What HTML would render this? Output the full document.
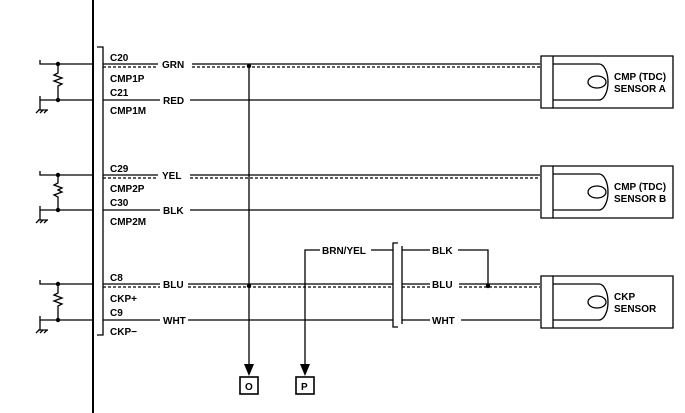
<!DOCTYPE html>
<html><head><meta charset="utf-8"><style>
html,body{margin:0;padding:0;background:#fff;}
svg{display:block;}
text{font-family:"Liberation Sans",Arial,sans-serif;font-weight:bold;font-size:10px;fill:#000;}
</style></head><body>
<svg width="685" height="413" viewBox="0 0 685 413" xmlns="http://www.w3.org/2000/svg">
<g stroke="#000" fill="none" stroke-width="1.3">
<!-- main vertical -->
<line x1="93" y1="0" x2="93" y2="413" stroke-width="2"/>
<!-- connector bracket -->
<polyline points="97,47 103,47 103,335 97,335"/>
</g>
<!-- row group template repeated -->
<g id="rows" stroke="#000" fill="none" stroke-width="1.3">
<!-- A -->
<path d="M40,60 v4 H93 M40,96 v4 H93 M58,64 V73 l-4,2 l8,3 l-8,3 l8,3 l-4,2 V100"/>
<path d="M38,110 h10 M36,113 l3,-3 M40,113 l3,-3 M44,113 l3,-3 M40,100 V110"/>
<line x1="103" y1="64" x2="158" y2="64"/><line x1="192" y1="64" x2="540" y2="64"/>
<line x1="103" y1="67" x2="158" y2="67" stroke-dasharray="3,2"/><line x1="192" y1="67" x2="540" y2="67" stroke-dasharray="3,2"/>
<line x1="103" y1="100" x2="160" y2="100"/><line x1="190" y1="100" x2="540" y2="100"/>
<!-- B -->
<path d="M40,171 v4 H93 M40,206 v4 H93 M58,175 V183 l-4,2 l8,3 l-4,2 l4,2 l-8,3 l4,2 V210"/>
<path d="M38,220 h10 M36,223 l3,-3 M40,223 l3,-3 M44,223 l3,-3 M40,210 V220"/>
<line x1="103" y1="175" x2="158" y2="175"/><line x1="190" y1="175" x2="540" y2="175"/>
<line x1="103" y1="178" x2="158" y2="178" stroke-dasharray="3,2"/><line x1="190" y1="178" x2="540" y2="178" stroke-dasharray="3,2"/>
<line x1="103" y1="210" x2="160" y2="210"/><line x1="190" y1="210" x2="540" y2="210"/>
<!-- C -->
<path d="M40,280 v4 H93 M40,316 v4 H93 M58,284 V293 l-4,2 l8,3 l-8,3 l8,3 l-4,2 V320"/>
<path d="M38,330 h10 M36,333 l3,-3 M40,333 l3,-3 M44,333 l3,-3 M40,320 V330"/>
<line x1="103" y1="284" x2="160" y2="284"/><line x1="188" y1="284" x2="393" y2="284"/>
<line x1="103" y1="287" x2="160" y2="287" stroke-dasharray="3,2"/><line x1="188" y1="287" x2="393" y2="287" stroke-dasharray="3,2"/>
<line x1="103" y1="320" x2="160" y2="320"/><line x1="188" y1="320" x2="393" y2="320"/>
<line x1="402" y1="284" x2="430" y2="284"/><line x1="459" y1="284" x2="540" y2="284"/>
<line x1="402" y1="287" x2="430" y2="287" stroke-dasharray="3,2"/><line x1="459" y1="287" x2="540" y2="287" stroke-dasharray="3,2"/>
<line x1="402" y1="320" x2="430" y2="320"/><line x1="461" y1="320" x2="540" y2="320"/>
<polyline points="402,250 430,250"/><polyline points="458,250 488,250 488,286"/>
<!-- junction bracket -->
<polyline points="398,243 393,243 393,327 398,327"/>
<line x1="402" y1="246" x2="402" y2="324"/>
<!-- BRN/YEL -->
<polyline points="305,370 305,250 320,250"/><line x1="371" y1="250" x2="393" y2="250"/>
<!-- O line -->
<line x1="249" y1="65" x2="249" y2="370"/>
<rect x="240" y="377" width="18" height="17" stroke-width="1.6"/>
<rect x="296" y="377" width="18" height="17" stroke-width="1.6"/>
<!-- sensors -->
<path d="M541,56 h12 v52 h-12 z M553,56 h120 v52 h-120"/>
<path d="M553,64 h46 a9,18 0 0 1 0,36 h-46"/><ellipse cx="597" cy="82" rx="9" ry="6"/>
<path d="M541,166 h12 v52 h-12 z M553,166 h120 v52 h-120"/>
<path d="M553,174 h46 a9,18 0 0 1 0,36 h-46"/><ellipse cx="597" cy="192" rx="9" ry="6"/>
<path d="M541,276 h12 v52 h-12 z M553,276 h120 v52 h-120"/>
<path d="M553,284 h46 a9,18 0 0 1 0,36 h-46"/><ellipse cx="597" cy="302" rx="9" ry="6"/>
</g>
<g fill="#000">
<circle cx="58" cy="64" r="2.2"/><circle cx="58" cy="100" r="2.2"/>
<circle cx="58" cy="175" r="2.2"/><circle cx="58" cy="210" r="2.2"/>
<circle cx="58" cy="284" r="2.2"/><circle cx="58" cy="320" r="2.2"/>
<circle cx="249" cy="66" r="2.2"/><circle cx="249" cy="286" r="2.2"/><circle cx="488" cy="286" r="2.2"/>
<polygon points="244,364 254,364 249,376"/><polygon points="300,364 310,364 305,376"/>
</g>
<text x="110" y="61">C20</text><text x="110" y="82">CMP1P</text>
<text x="110" y="96">C21</text><text x="110" y="114">CMP1M</text>
<text x="110" y="172">C29</text><text x="110" y="192">CMP2P</text>
<text x="110" y="206">C30</text><text x="110" y="225">CMP2M</text>
<text x="110" y="281">C8</text><text x="110" y="302">CKP+</text>
<text x="110" y="316">C9</text><text x="110" y="335">CKP−</text>
<text x="162" y="68">GRN</text><text x="163" y="104">RED</text>
<text x="162" y="179">YEL</text><text x="163" y="214">BLK</text>
<text x="163" y="288">BLU</text><text x="163" y="324">WHT</text>
<text x="322" y="254">BRN/YEL</text>
<text x="432" y="254">BLK</text><text x="432" y="288">BLU</text><text x="432" y="324">WHT</text>
<text x="245" y="390">O</text><text x="301" y="390">P</text>
<text x="614" y="80">CMP (TDC)</text><text x="614" y="92">SENSOR A</text>
<text x="614" y="190">CMP (TDC)</text><text x="614" y="202">SENSOR B</text>
<text x="614" y="300">CKP</text><text x="614" y="312">SENSOR</text>
</svg>
</body></html>
